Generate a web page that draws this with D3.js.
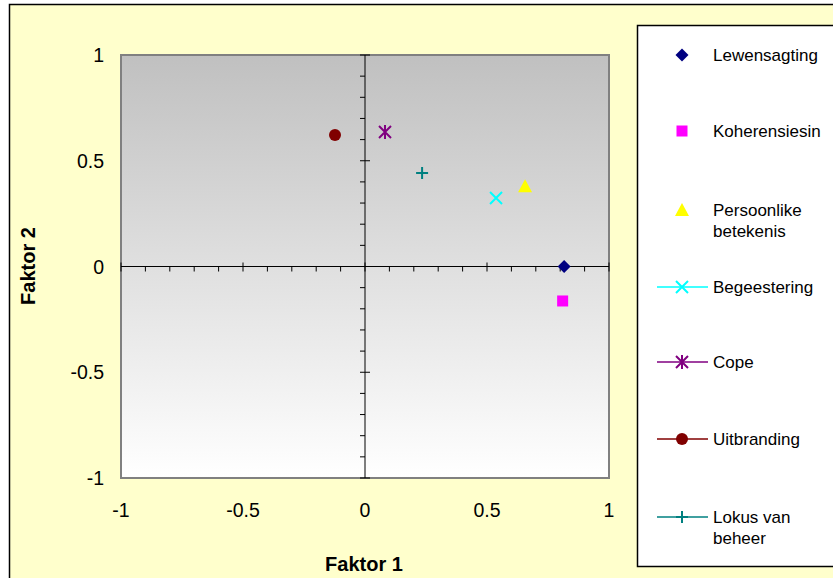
<!DOCTYPE html>
<html><head><meta charset="utf-8">
<script src="https://cdn.jsdelivr.net/npm/d3@7"></script>
<style>html,body{margin:0;padding:0;background:#fff;}svg{display:block;font-family:"Liberation Sans",Arial,sans-serif;}</style>
</head><body>
<svg id="c" width="833" height="578"></svg>
<script>
const seriesNames = ["Lewensagting","Koherensiesin","Persoonlike betekenis","Begeestering","Cope","Uitbranding","Lokus van beheer"];
const legendLines = [["Lewensagting"],["Koherensiesin"],["Persoonlike","betekenis"],["Begeestering"],["Cope"],["Uitbranding"],["Lokus van","beheer"]];
const faktor1 = [0.816, 0.81, 0.656, 0.537, 0.082, -0.123, 0.234];
const faktor2 = [0.0, -0.163, 0.38, 0.324, 0.636, 0.622, 0.442];
const colors = ["#000080","#FF00FF","#FFFF00","#00FFFF","#800080","#800000","#008080"];
const shapes = ["diamond","square","triangle","x","star","circle","plus"];
const hasLine = [false,false,false,true,true,true,true];
const xTicks = [-1,-0.5,0,0.5,1];
const yTicks = [-1,-0.5,0,0.5,1];
const xTitle = "Faktor 1", yTitle = "Faktor 2";

const svg = d3.select("#c");
svg.append("rect").attr("x",9.5).attr("y",4.5).attr("width",840).attr("height",590)
  .attr("fill","#FFFFCC").attr("stroke","#000").attr("stroke-width",1.5);

const L=121, R=609, T=55, B=478;
const x = d3.scaleLinear().domain([-1,1]).range([L,R]);
const y = d3.scaleLinear().domain([-1,1]).range([B,T]);

const defs = svg.append("defs");
const g = defs.append("linearGradient").attr("id","bg").attr("x1",0).attr("y1",0).attr("x2",0).attr("y2",1);
g.append("stop").attr("offset","0%").attr("stop-color","#C0C0C0");
g.append("stop").attr("offset","100%").attr("stop-color","#FFFFFF");

svg.append("rect").attr("x",L).attr("y",T).attr("width",R-L).attr("height",B-T)
  .attr("fill","url(#bg)").attr("stroke","#808080").attr("stroke-width",2);

const minor = d3.range(-10,11).map(d=>d/10);
const ax = svg.append("g").attr("stroke","#000").attr("stroke-width",1);
ax.append("line").attr("x1",L).attr("x2",R).attr("y1",y(0)).attr("y2",y(0));
ax.append("line").attr("x1",x(0)).attr("x2",x(0)).attr("y1",T).attr("y2",B);
minor.forEach(v=>{
  const major = Math.abs(v*2 - Math.round(v*2))<1e-9;
  ax.append("line").attr("x1",x(v)).attr("x2",x(v))
    .attr("y1",y(0)-(major?4:0)).attr("y2",y(0)+5);
  ax.append("line").attr("y1",y(v)).attr("y2",y(v))
    .attr("x1",x(0)-5).attr("x2",x(0)+(major?5:0));
});

svg.append("g").selectAll("text").data(xTicks).join("text")
  .attr("x",d=>x(d)).attr("y",517).attr("text-anchor","middle")
  .attr("font-size",19.5).attr("fill","#000").text(d=>d);
svg.append("g").selectAll("text").data(yTicks).join("text")
  .attr("x",104).attr("y",d=>y(d)+7).attr("text-anchor","end")
  .attr("font-size",19.5).attr("fill","#000").text(d=>d);

svg.append("text").attr("x",364).attr("y",571).attr("text-anchor","middle")
  .attr("font-size",20).attr("font-weight","bold").text(xTitle);
svg.append("text").attr("transform","translate(35,266) rotate(-90)").attr("text-anchor","middle")
  .attr("font-size",20).attr("font-weight","bold").text(yTitle);

function marker(sel, shape, color){
  if(shape==="diamond") sel.append("path").attr("d","M0,-6.5L6.5,0L0,6.5L-6.5,0Z").attr("fill",color);
  else if(shape==="square") sel.append("rect").attr("x",-5.5).attr("y",-5.5).attr("width",11).attr("height",11).attr("fill",color);
  else if(shape==="triangle") sel.append("path").attr("d","M0,-7L7,6L-7,6Z").attr("fill",color);
  else if(shape==="circle") sel.append("circle").attr("r",6).attr("fill",color);
  else if(shape==="x") sel.append("path").attr("d","M-6,-6L6,6M-6,6L6,-6").attr("stroke",color).attr("stroke-width",2).attr("fill","none");
  else if(shape==="star") sel.append("path").attr("d","M-6,-6L6,6M-6,6L6,-6M0,-7L0,7").attr("stroke",color).attr("stroke-width",2).attr("fill","none");
  else if(shape==="plus") sel.append("path").attr("d","M-6,0L6,0M0,-6L0,6").attr("stroke",color).attr("stroke-width",2).attr("fill","none");
}

seriesNames.forEach((n,i)=>{
  const m = svg.append("g").attr("transform",`translate(${x(faktor1[i])},${y(faktor2[i])})`);
  marker(m, shapes[i], colors[i]);
});

svg.append("rect").attr("x",637.5).attr("y",25.5).attr("width",210).attr("height",541)
  .attr("fill","#fff").attr("stroke","#000").attr("stroke-width",1.5);
const legY = [55,131,210,287,362,439,517];
seriesNames.forEach((n,i)=>{
  const cy = legY[i];
  const lines = legendLines[i];
  if(hasLine[i]) svg.append("line").attr("x1",657).attr("x2",708).attr("y1",cy).attr("y2",cy)
      .attr("stroke",colors[i]).attr("stroke-width",1.5);
  const m = svg.append("g").attr("transform",`translate(682,${cy})`);
  marker(m, shapes[i], colors[i]);
  const t = svg.append("text").attr("x",713).attr("font-size",17).attr("fill","#000");
  lines.forEach((l,j)=>t.append("tspan").attr("x",713).attr("y",cy+j*21+6).text(l));
});
</script>
</body></html>
